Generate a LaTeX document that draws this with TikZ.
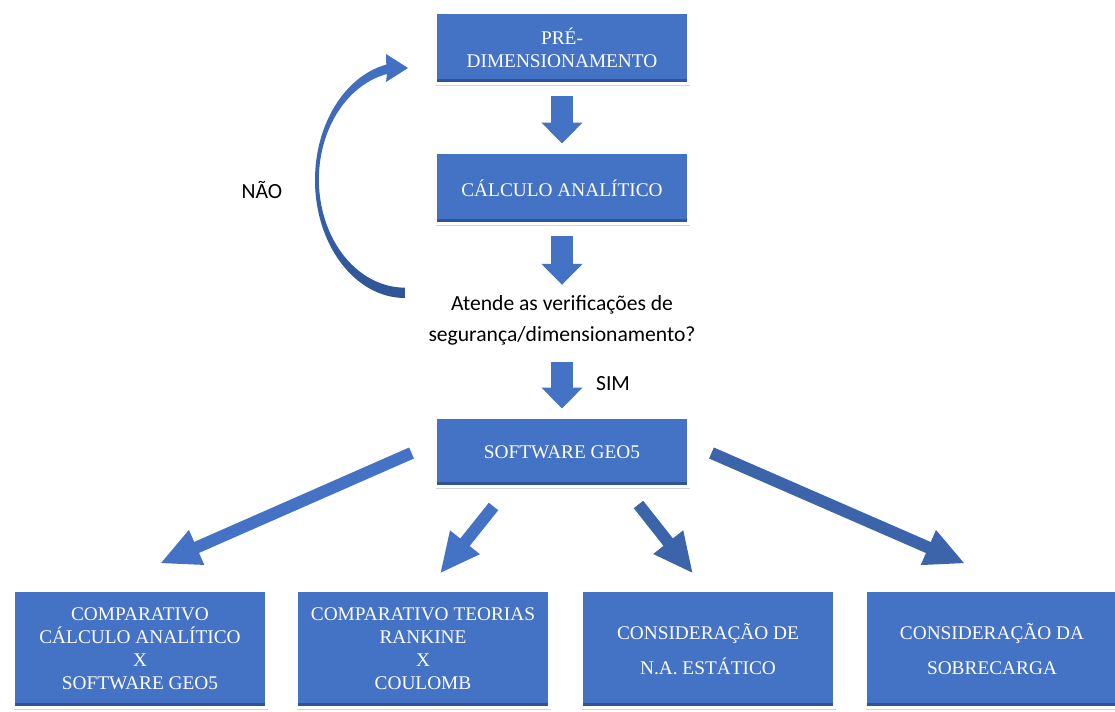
\documentclass[tikz,border=0pt]{standalone}
\usepackage{fontspec}
\setmainfont{Liberation Serif}
\newfontfamily\calibri{Carlito}
\usepackage{tikz}
\usetikzlibrary{calc,arrows.meta,shapes,positioning,shadows}
\definecolor{boxblue}{HTML}{4472C4}
\definecolor{boxdark}{HTML}{2F5597}
\definecolor{arrdark}{HTML}{3B64AA}
\tikzset{
    box/.style={
    rectangle,fill=boxblue,draw=white,line width=0.06cm,text=white,align=center,
    minimum width=5.08cm,minimum height=1.44cm,inner sep=0pt,
    font=\fontsize{11pt}{13.1pt}\selectfont,
    drop shadow={opacity=0.35,shadow xshift=0.02cm,shadow yshift=-0.05cm},
    path picture={\fill[boxdark] ([yshift=0.03cm]path picture bounding box.south west) rectangle ([yshift=0.09cm]path picture bounding box.south east);}
    },
    bigbox/.style={
    box,minimum height=2.36cm
    },
    txt/.style={
    font=\calibri\fontsize{12.3pt}{17.6pt}\selectfont,align=center,inner sep=0pt
    },
    downarrow/.style={
    draw=boxblue,line width=0.44cm,-{Triangle[length=0.42cm,width=0.8cm]}
    },
    diagarrow/.style={
    draw=boxblue,line width=0.24cm,-{Triangle[length=0.8cm,width=0.7cm]}
    },
}

\begin{document}
\begin{tikzpicture}[x=0.02cm, y=0.02cm]
   \useasboundingbox (0,0) rectangle (1115,711);
   \node[box] (pre) at (562,663) {PRÉ-\\DIMENSIONAMENTO};
   \node[box] (calc) at (562,523) {CÁLCULO ANALÍTICO};
   \node[txt] (q) at (562,391) {Atende as verificações de\\segurança/dimensionamento?};
   \node[box,minimum height=1.4cm] (geo) at (562,259) {SOFTWARE GEO5};
   \node[bigbox] (c1) at (140,62) {COMPARATIVO\\CÁLCULO ANALÍTICO\\X\\SOFTWARE GEO5};
   \node[bigbox] (c2) at (423,62) {COMPARATIVO TEORIAS\\RANKINE\\X\\COULOMB};
   \node[bigbox] (c3) at (708,62) {CONSIDERAÇÃO DE\\[0.24cm]N.A. ESTÁTICO};
   \node[bigbox] (c4) at (992,62) {CONSIDERAÇÃO DA\\[0.24cm]SOBRECARGA};
   \node[txt] (nao) at (262,521) {NÃO};
   \node[txt] (sim) at (613,327) {SIM};

  % vertical flow
  \draw[downarrow,shorten <=0.22cm,shorten >=0.14cm] (pre.south) -- (calc.north);
  \draw[downarrow,shorten <=0.22cm,shorten >=0.2cm] (calc.south) -- (q.north);
  \draw[downarrow,shorten <=0.34cm,shorten >=0.14cm] (q.south) -- (geo.north);

  % back to the start
  \shade[top color=boxblue,bottom color=boxdark]
    (405,413) arc[start angle=270,end angle=102,x radius=90,y radius=118]
    -- (386,657) -- (408,643) -- (386,629) -- (387,637)
    arc[start angle=102,end angle=270,x radius=86,y radius=108] -- cycle;

  % branches
  \draw[diagarrow] ($(geo.west)+(-22,-1)$) -- ($(c1.north)+(20,25)$);
  \draw[diagarrow] ($(geo.south west)+(60,-18)$) -- ($(c2.north)+(17,15)$);
  \draw[diagarrow,draw=arrdark] ($(geo.south east)+(-52,-16)$) -- ($(c3.north)+(-15,15)$);
  \draw[diagarrow,draw=arrdark] ($(geo.east)+(21,-1)$) -- ($(c4.north)+(-27,25)$);
\end{tikzpicture}
\end{document}
